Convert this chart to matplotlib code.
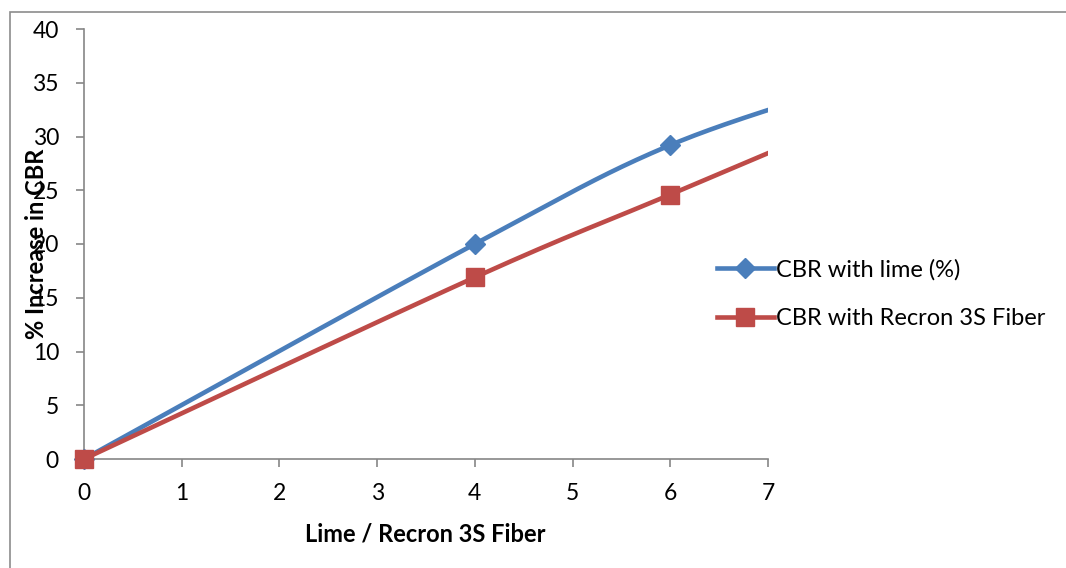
import numpy as np
import matplotlib
matplotlib.use("Agg")
import matplotlib.pyplot as plt
from matplotlib.patches import Rectangle

# ---- data ----
x_vals = [0, 4, 6, 8]
lime_vals = [0, 20.0, 29.2, 35.3]
recron_vals = [0, 16.9, 24.6, 32.3]
series_names = ["CBR with lime (%)", "CBR with Recron 3S Fiber"]
x_ticks = [0, 1, 2, 3, 4, 5, 6, 7]
y_ticks = [0, 5, 10, 15, 20, 25, 30, 35, 40]
x_label = "Lime / Recron 3S Fiber"
y_label = "% Increase in CBR"

def excel_smooth(xs, ys, n=60):
    P = np.column_stack([xs, ys]).astype(float)
    out = []
    m = len(P)
    for i in range(m - 1):
        p0 = P[i - 1] if i > 0 else P[i]
        p1 = P[i]
        p2 = P[i + 1]
        p3 = P[i + 2] if i + 2 < m else P[i + 1]
        c1 = p1 + (p2 - p0) / 6.0
        c2 = p2 - (p3 - p1) / 6.0
        t = np.linspace(0, 1, n)[:, None]
        seg = ((1 - t) ** 3) * p1 + 3 * ((1 - t) ** 2) * t * c1 + 3 * (1 - t) * t ** 2 * c2 + t ** 3 * p2
        out.append(seg if i == 0 else seg[1:])
    s = np.vstack(out)
    return s[:, 0], s[:, 1]

plt.rcParams['font.family'] = ['Lato', 'DejaVu Sans']

fig = plt.figure(figsize=(10.66, 5.68), dpi=100)
W, H = 1066, 568
ax = fig.add_axes([84 / W, 1 - 459 / H, (768 - 84) / W, (459 - 29) / H])

# outer chart border
fig.patches.append(Rectangle((10 / W, -0.05), 1.2, 1 - 12 / H + 0.05, transform=fig.transFigure,
                             fill=False, edgecolor='#8c8c8c', linewidth=1.2))

blue = '#4A7EBB'
red = '#BE4B48'

for ys, col, mk, ms, name in [(lime_vals, blue, 'D', 10, series_names[0]),
                               (recron_vals, red, 's', 13.5, series_names[1])]:
    sx, sy = excel_smooth(x_vals, ys)
    ax.plot(sx, sy, color=col, linewidth=3.3, solid_capstyle='round', zorder=2)
    vis = [(x, y) for x, y in zip(x_vals, ys) if x <= 7]
    ax.plot([p[0] for p in vis], [p[1] for p in vis], linestyle='none', marker=mk, markersize=ms,
            color=col, zorder=3, clip_on=False)
    ax.plot([], [], color=col, linewidth=3.3, marker=mk, markersize=ms, label=name)

ax.set_xlim(0, 7)
ax.set_ylim(0, 40)
ax.set_xticks(x_ticks)
ax.set_yticks(y_ticks)
for s in ['top', 'right']:
    ax.spines[s].set_visible(False)
for s in ['left', 'bottom']:
    ax.spines[s].set_color('#868686')
    ax.spines[s].set_linewidth(1.2)
ax.tick_params(axis='both', direction='out', length=6, width=1.2, color='#868686',
               labelsize=16.5, labelcolor='black')
ax.tick_params(axis='x', pad=11)
ax.tick_params(axis='y', pad=12)

fig.text(425 / W, 1 - 534 / H, x_label, ha='center', va='center', fontsize=17, fontweight='bold')
fig.text(37 / W, 1 - 244 / H, y_label, ha='center', va='center', rotation=90,
         fontsize=17, fontweight='bold')

leg = ax.legend(loc='center left', bbox_to_anchor=(717 / W, 1 - 294 / H), bbox_transform=fig.transFigure,
                frameon=False, fontsize=17, handlelength=2.4, handletextpad=0.12, labelspacing=1.15,
                borderaxespad=0, borderpad=0)

fig.savefig('out.png', dpi=100)
